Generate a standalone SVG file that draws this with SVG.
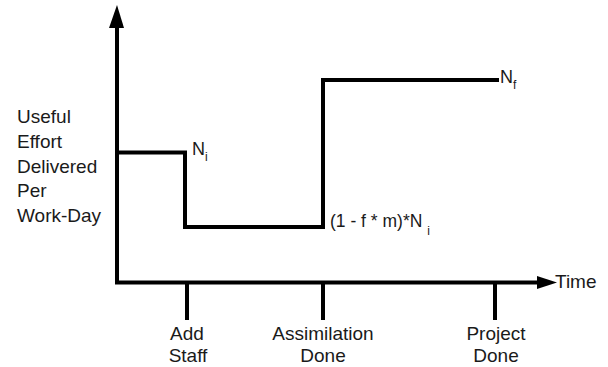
<svg xmlns="http://www.w3.org/2000/svg" width="608" height="367" viewBox="0 0 608 367">
<style>
.ax{stroke:#000;stroke-width:4;fill:none}
.ln{stroke:#000;stroke-width:4;fill:none;stroke-linejoin:miter;stroke-linecap:square}
text{font-family:"Liberation Sans",Arial,sans-serif;fill:#1a1a1a}
.lb{font-size:19px}
.mid{text-anchor:middle}
</style>
<defs>
<marker id="ahU" markerUnits="userSpaceOnUse" markerWidth="16" markerHeight="24" refX="8" refY="22" orient="auto-start-reverse" viewBox="0 0 16 24">
<path d="M1,22 L8,0 L15,22 Z" fill="#000"/>
</marker>
</defs>
<rect width="608" height="367" fill="#fff"/>
<g id="axes">
<line class="ax" x1="117" y1="284" x2="117" y2="27"/>
<path d="M109,28 L117,5 L124,28 Z" fill="#000"/>
<line class="ax" x1="115" y1="282.5" x2="538" y2="282.5"/>
<path d="M537,276 L557,282.5 L537,289 Z" fill="#000"/>
</g>
<g id="ticks">
<line class="ax" x1="187" y1="282" x2="187" y2="320"/>
<line class="ax" x1="323" y1="282" x2="323" y2="320"/>
<line class="ax" x1="495" y1="282" x2="495" y2="320"/>
</g>
<g id="connectors">
<polyline class="ln" points="117,152.5 185,152.5 185,227 323,227 323,80 497,80"/>
</g>
<g id="yLabel">
<text class="lb" x="17" y="123">Useful</text>
<text class="lb" x="17" y="148">Effort</text>
<text class="lb" x="17" y="173">Delivered</text>
<text class="lb" x="17" y="197">Per</text>
<text class="lb" x="17" y="222">Work-Day</text>
</g>
<g id="xLabel"><text class="lb" x="555" y="288">Time</text></g>
<g id="addStaff">
<text class="lb mid" x="187" y="340">Add</text>
<text class="lb mid" x="188" y="362">Staff</text>
</g>
<g id="assimilation">
<text class="lb mid" x="323" y="340">Assimilation</text>
<text class="lb mid" x="323" y="362">Done</text>
</g>
<g id="projectDone">
<text class="lb mid" x="496" y="340">Project</text>
<text class="lb mid" x="496" y="362">Done</text>
</g>
<g id="Ni">
<text x="192" y="155" font-size="18">N<tspan font-size="12" dy="6">i</tspan></text>
</g>
<g id="Nlow">
<text x="330" y="227" font-size="17.5">(1 - f * m)*N <tspan font-size="12" dy="8">i</tspan></text>
</g>
<g id="Nf">
<text x="500" y="83" font-size="18">N<tspan font-size="12" dy="6">f</tspan></text>
</g>
</svg>
